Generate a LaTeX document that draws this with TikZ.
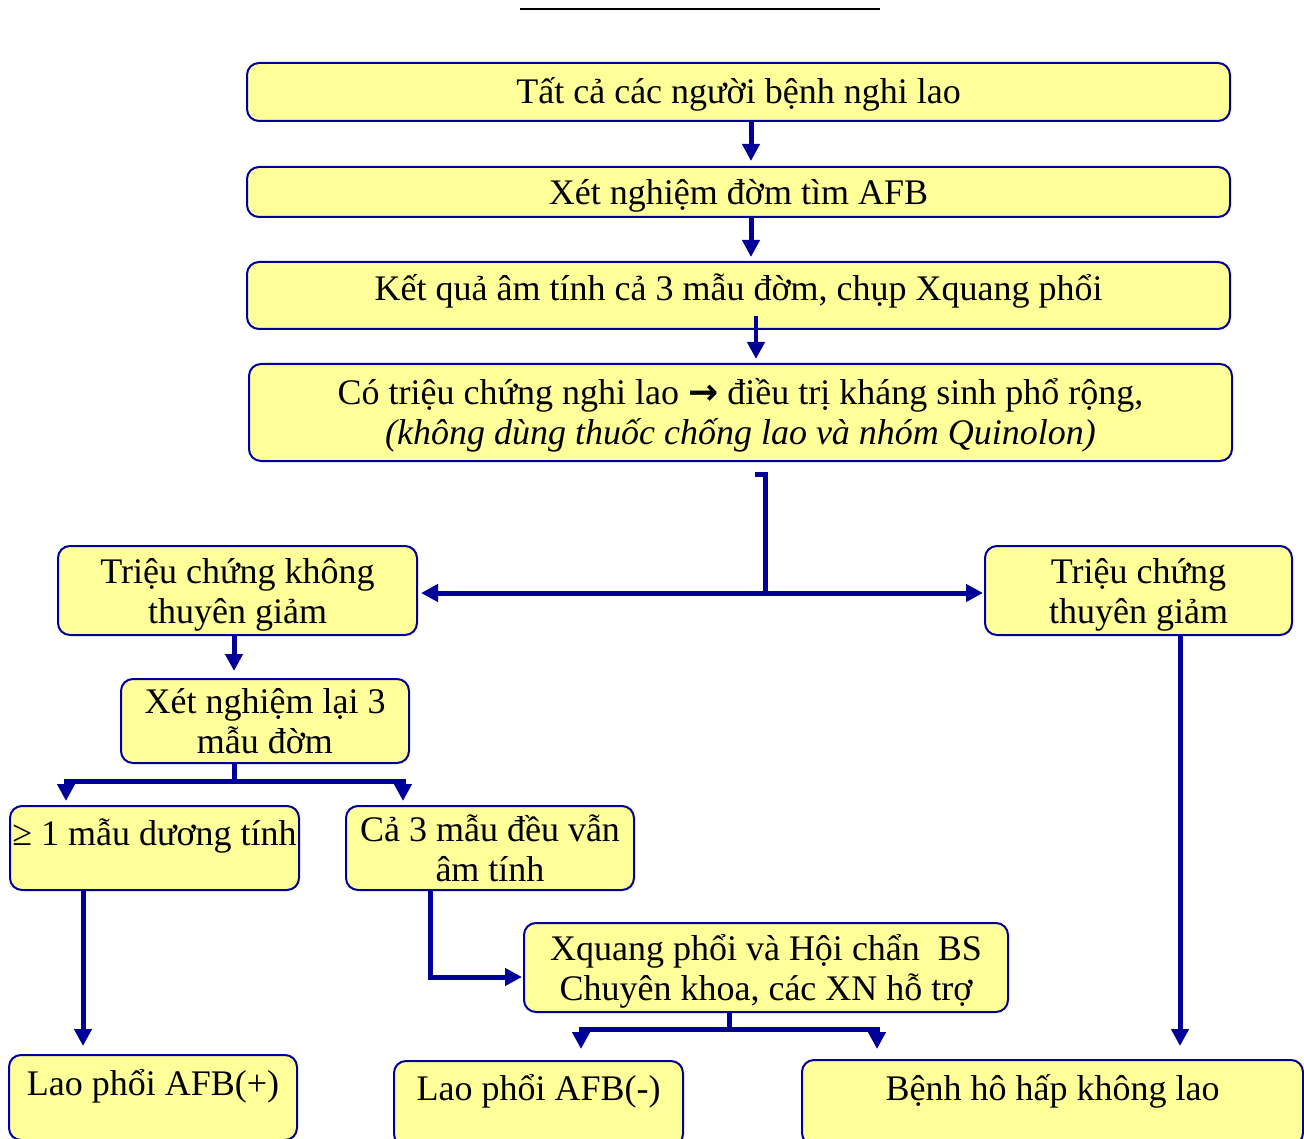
\documentclass[tikz,border=0pt]{standalone}
\usepackage{fontspec}
\setmainfont{Liberation Serif}
\newfontfamily\arrowfont{DejaVu Sans}
\usetikzlibrary{positioning,calc,arrows.meta}
\definecolor{boxfill}{HTML}{FFFF99}
\definecolor{navy}{HTML}{000099}

\begin{document}
\begin{tikzpicture}[
    x=1pt, y=-1pt,
    box/.style={rectangle, draw=navy, line width=2pt, fill=boxfill, rounded corners=12pt, align=center, inner sep=2pt, font=\fontsize{36}{40}\selectfont},
    lowered/.style={text height=26pt, text depth=#1},
    arrow/.style={-{Triangle[width=17pt,length=17pt]}, line width=5pt, draw=navy},
    link/.style={line width=5pt, draw=navy}
]
\useasboundingbox (0,0) rectangle (1304,1139);
\clip (0,0) rectangle (1304,1139);

% Rule at the top
\draw[line width=2pt] (520,9) -- (880,9);

% Main column
\node[box, minimum width=983pt, minimum height=58pt, lowered=2pt] (all) at (738.5,92) {Tất cả các người bệnh nghi lao};
\node[box, minimum width=983pt, minimum height=50pt, lowered=0pt, below=44pt of all] (afb) {Xét nghiệm đờm tìm AFB};
\node[box, minimum width=983pt, minimum height=67pt, lowered=15pt, below=43pt of afb] (xray) {Kết quả âm tính cả 3 mẫu đờm, chụp Xquang phổi};
\node[box, minimum width=983pt, minimum height=97pt, text depth=2pt, below=33pt of xray, xshift=2pt] (abx) {Có triệu chứng nghi lao {\arrowfont\bfseries\fontsize{36}{40}\selectfont →} điều trị kháng sinh phổ rộng,\\\textit{(không dùng thuốc chống lao và nhóm Quinolon)}};

% Symptoms
\node[box, minimum width=359pt, minimum height=89pt, text depth=0pt] (worse) at (237.5,590.5) {Triệu chứng không\\thuyên giảm};
\node[box, minimum width=307pt, minimum height=89pt, text depth=0pt] (better) at (1138.5,590.5) {Triệu chứng\\thuyên giảm};

% Sputum retest branch
\node[box, minimum width=288pt, minimum height=84pt, text depth=0pt] (retest) at (265,721) {Xét nghiệm lại 3\\mẫu đờm};
\node[box, minimum width=289pt, minimum height=84pt, lowered=32pt] (pos) at (154.5,848) {≥ 1 mẫu dương tính};
\node[box, minimum width=288pt, minimum height=84pt, text depth=0pt] (neg) at (490,848) {Cả 3 mẫu đều vẫn\\âm tính};
\node[box, minimum width=484pt, minimum height=89pt, text depth=0pt] (consult) at (766,967.5) {Xquang phổi và Hội chẩn~ BS\\Chuyên khoa, các XN hỗ trợ};

% Outcomes
\node[box, minimum width=288pt, minimum height=85pt, lowered=30pt] (tbpos) at (153,1097.5) {Lao phổi AFB(+)};
\node[box, minimum width=289pt, minimum height=85pt, lowered=32pt] (tbneg) at (538.5,1103.5) {Lao phổi AFB(-)};
\node[box, minimum width=501pt, minimum height=85pt, lowered=30pt] (nontb) at (1052.5,1102.5) {Bệnh hô hấp không lao};

% Connections in the main column
\draw[arrow, shorten >=5pt] ([xshift=12.5pt]all.south) -- ([xshift=12.5pt]afb.north);
\draw[arrow, shorten >=4pt] ([xshift=12.5pt]afb.south) -- ([xshift=12.5pt]xray.north);
\draw[arrow, line width=4.5pt, shorten >=4pt] ([xshift=17.5pt,yshift=14pt]xray.south) -- ([xshift=15.5pt]abx.north);

% Split to the two symptom boxes
\coordinate (hook) at (755,474);
\coordinate (split) at (765,593);
\draw[link] (hook) -- (hook -| split) -- (split);
\draw[arrow, shorten >=3pt] (split) -- (worse.east |- split);
\draw[arrow, shorten >=1pt] (split) -- (better.west |- split);

% Left branch
\draw[arrow, shorten >=7pt] ([xshift=-3.5pt]worse.south) -- ([xshift=-3.5pt]worse.south |- retest.north);
\coordinate (fork1) at (234,781);
\draw[link] ([xshift=-31pt]retest.south) -- (fork1);
\draw[arrow, shorten >=4pt] (fork1) -| ([xshift=-88.5pt]pos.north);
\draw[arrow, shorten >=4pt] (fork1) -| ([xshift=-87pt]neg.north);
\draw[arrow, shorten >=8pt] ([xshift=-71.5pt]pos.south) -- ([xshift=-71.5pt]pos.south |- tbpos.north);
\draw[arrow, shorten >=1pt] ([xshift=-60pt]neg.south) |- ([yshift=-9.5pt]consult.west);
\coordinate (fork2) at (729,1029);
\draw[link] ([xshift=-37pt]consult.south) -- (fork2);
\draw[arrow, shorten >=11pt] (fork2) -| ([xshift=42.5pt]tbneg.north);
\draw[arrow, shorten >=10pt] (fork2) -| ([xshift=-175.5pt]nontb.north);

% Right branch
\draw[arrow, shorten >=13pt] ([xshift=41.5pt]better.south) -- ([xshift=41.5pt]better.south |- nontb.north);

\end{tikzpicture}
\end{document}
